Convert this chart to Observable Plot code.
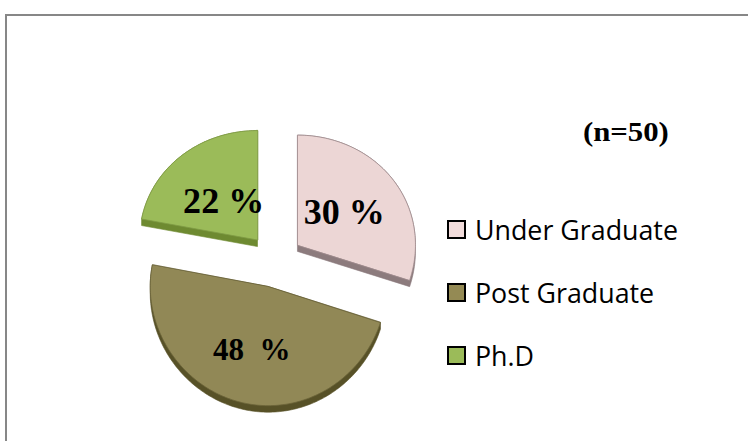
<!DOCTYPE html>
<html>
<head>
<meta charset="utf-8">
<script src="https://cdn.jsdelivr.net/npm/d3@7"></script>
<script src="https://cdn.jsdelivr.net/npm/@observablehq/plot@0.6"></script>
<style>
  html, body { margin: 0; padding: 0; background: #fff; width: 748px; height: 441px; overflow: hidden; }
  #chart { position: absolute; left: 0; top: 0; }
  #frame { position: absolute; left: 5px; top: 14px; width: 820px; height: 520px;
           border-top: 2px solid #878787; border-left: 2px solid #878787; pointer-events: none; }
  #legend { position: absolute; left: 448px; top: 198px; }
  #legend, #legend * { font-family: "Open Sans", sans-serif !important; font-size: 26.8px !important; color: #000 !important; }
  #legend > div { margin: 0 !important; padding: 0 !important; columns: auto !important; }
  #legend > div > div { display: flex !important; align-items: center !important; height: 63px !important;
                        margin: 0 !important; padding: 0 !important; }
  #legend svg { margin-right: 10px !important; overflow: visible !important; }
  #legend svg rect { stroke: #000; stroke-width: 2px; }
  .serif text { font-family: "Liberation Serif", "Times New Roman", Times, serif; font-weight: bold; }
</style>
</head>
<body>
<div id="chart"></div>
<div id="legend"></div>
<div id="frame"></div>
<script>
// ---- data ----
const categories = ["Under Graduate", "Post Graduate", "Ph.D"];
const percents = [30, 48, 22];
const sliceLabels = ["30 %", "48\u00a0 %", "22 %"];
const sampleSize = "(n=50)";

// ---- styles ----
const faceColors = ["#ecd6d5", "#918856", "#9bbb59"];
const sideColors = ["#8c7b7d", "#575127", "#6e8a31"];
const edgeColors = ["#a08c8e", "#6b6338", "#7f9a45"];
const legendColors = ["#f2dcdb", "#948a54", "#9bbb59"];
const labelRadius = [0.49, 0.56, 0.45];
const labelSize = [35, 31, 35];
const labelStretch = [1.03, 1.0, 1.03];

const W = 748, H = 441;
const R = 118;              // pixels per pie radius
const cx = 274.6, cy = 260; // pie centre in pixels
const explode = 0.234;      // explosion in radius units
const depth = 6.5 / R;      // 3D thickness
const tiltK = 0.966, persp = 0.03;
const proj = (u, v) => [u, tiltK * v / (1 + persp * v)];

const arcs = d3.pie().sort(null).value(d => d)(percents);
const faces = [], sides = [], labelPts = [];
arcs.forEach((a, i) => {
  const m = (a.startAngle + a.endAngle) / 2;
  const au = explode * Math.sin(m), av = explode * Math.cos(m);
  const n = Math.max(8, Math.ceil((a.endAngle - a.startAngle) / 0.02));
  const pts = [proj(au, av)];
  for (let k = 0; k <= n; k++) {
    const t = a.startAngle + (a.endAngle - a.startAngle) * k / n;
    pts.push(proj(au + Math.sin(t), av + Math.cos(t)));
  }
  pts.forEach(([x, y]) => faces.push({x, y, id: "f" + i, fill: faceColors[i], stroke: edgeColors[i]}));
  const hull = d3.polygonHull(pts.concat(pts.map(([x, y]) => [x, y - depth])));
  hull.forEach(([x, y]) => sides.push({x, y, id: "s" + i, fill: sideColors[i]}));
  const [lx, ly] = proj(au + labelRadius[i] * Math.sin(m), av + labelRadius[i] * Math.cos(m));
  labelPts.push({x: lx, y: ly, text: sliceLabels[i], size: labelSize[i], stretch: labelStretch[i]});
});

const plot = Plot.plot({
  width: W, height: H, margin: 0,
  x: {domain: [-cx / R, (W - cx) / R], axis: null},
  y: {domain: [-(H - cy) / R, cy / R], axis: null},
  color: {type: "identity"},
  style: {background: "transparent", overflow: "visible"},
  marks: [
    Plot.line(sides, {x: "x", y: "y", z: "id", fill: "fill", stroke: "fill", strokeWidth: 0.6, curve: "linear-closed"}),
    Plot.line(faces, {x: "x", y: "y", z: "id", fill: "fill", stroke: "stroke", strokeWidth: 0.8, curve: "linear-closed"}),
    Plot.text(labelPts, {x: "x", y: "y", text: "text", fontSize: d => d.size, fontWeight: "bold",
      fontFamily: "Liberation Serif", fill: "#000", textAnchor: "middle"}),
    Plot.text([sampleSize], {frameAnchor: "top-left", dx: 625.4, dy: 132, text: d => d, textAnchor: "middle",
      lineAnchor: "middle", fontSize: 28, fontWeight: "bold", fontFamily: "Liberation Serif", fill: "#000"})
  ]
});
plot.classList.add("serif");
document.getElementById("chart").appendChild(plot);

// horizontal stretch of the bold serif labels (as in the reference)
const stretchMap = new Map(labelPts.map(d => [d.text, d.stretch]));
stretchMap.set(sampleSize, 1.1);
d3.select(plot).selectAll("text").each(function () {
  const s = stretchMap.get(this.textContent);
  if (!s || s === 1) return;
  const t = this.getAttribute("transform");
  if (t) this.setAttribute("transform", t + ` scale(${s},1)`);
  else {
    const x = +this.getAttribute("x") || 0, y = +this.getAttribute("y") || 0;
    this.removeAttribute("x"); this.removeAttribute("y");
    this.setAttribute("transform", `translate(${x},${y}) scale(${s},1)`);
  }
});

const legend = Plot.legend({
  color: {domain: categories, range: legendColors},
  legend: "swatches", columns: 1, swatchSize: 17
});
document.getElementById("legend").appendChild(legend);
</script>
</body>
</html>
